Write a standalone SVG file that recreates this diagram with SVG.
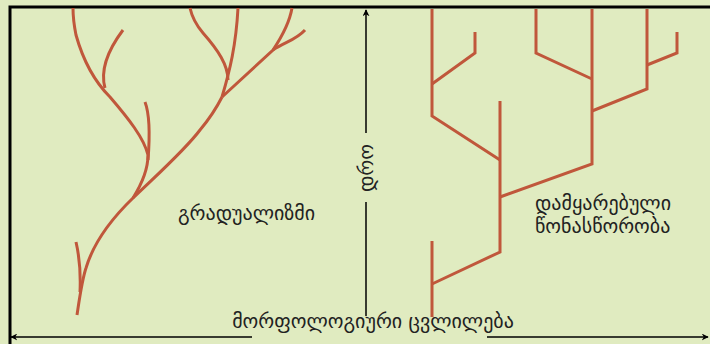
<svg xmlns="http://www.w3.org/2000/svg" width="710" height="344" viewBox="0 0 710 344">
<defs>
<style>
.br{fill:none;stroke:#c0573b;stroke-width:3;stroke-linecap:butt;stroke-linejoin:miter}
.ax{fill:none;stroke:#000;stroke-width:1.5}
.lbl{font-family:"DejaVu Sans","Noto Sans",sans-serif;font-size:20px;fill:#222}
</style>
<marker id="ah" viewBox="0 0 10 10" refX="9" refY="5" markerWidth="7" markerHeight="7" orient="auto-start-reverse" markerUnits="userSpaceOnUse">
<path d="M0,0 L10,5 L0,10 L3,5 Z" fill="#000"/>
</marker>
</defs>
<rect x="0" y="0" width="710" height="344" fill="#e0ebc0"/>
<g id="frame">
<path d="M10,344 V7 H710" fill="none" stroke="#000" stroke-width="3"/>
</g>
<g id="gradualism-tree">
<path class="br" d="M77,315 C80,295 82,280 86,268 C92,248 105,225 133,198 C160,172 185,150 200,130 C210,118 218,105 222,97"/>
<path class="br" d="M80,292 C81,270 79,255 76,242"/>
<path class="br" d="M133,198 C143,182 148,168 148,155 C144,138 128,118 110,97 C95,82 83,60 76,35 C74,25 73,15 73,8"/>
<path class="br" d="M148,160 C150,135 150,115 145,102"/>
<path class="br" d="M105,88 C100,70 108,50 123,30"/>
<path class="br" d="M222,97 C230,70 236,45 238,8"/>
<path class="br" d="M228,80 C228,65 218,50 203,33 C197,26 192,17 190,8"/>
<path class="br" d="M222,97 L273,50 C283,35 290,20 292,8"/>
<path class="br" d="M273,50 C285,42 296,40 305,30"/>
</g>
<g id="punctuated-tree">
<path class="br" d="M432,9 V116 L500,160"/>
<path class="br" d="M432,84 L475,53 V32"/>
<path class="br" d="M500,101 V252 L432,284"/>
<path class="br" d="M432,241 V317"/>
<path class="br" d="M500,197 L592,164 V9"/>
<path class="br" d="M592,79 L536,53 V9"/>
<path class="br" d="M592,111 L647,89 V9"/>
<path class="br" d="M647,65 L677,53 V32"/>
</g>
<g id="connectors">
<path class="ax" d="M366,133 V10" marker-end="url(#ah)"/>
<path class="ax" d="M366,202 V316"/>
<path class="ax" d="M252,337 H11" marker-end="url(#ah)"/>
<path class="ax" d="M487,337 H708" marker-end="url(#ah)"/>
</g>
<g id="labels">
<text class="lbl" x="366" y="168" text-anchor="middle" dominant-baseline="central" transform="rotate(-90 366 168)">დრო</text>
<text class="lbl" x="178" y="220">გრადუალიზმი</text>
<text class="lbl" x="535" y="210">დამყარებული</text>
<text class="lbl" x="535" y="233">წონასწორობა</text>
<text class="lbl" x="373" y="328" text-anchor="middle">მორფოლოგიური ცვლილება</text>
</g>
</svg>
